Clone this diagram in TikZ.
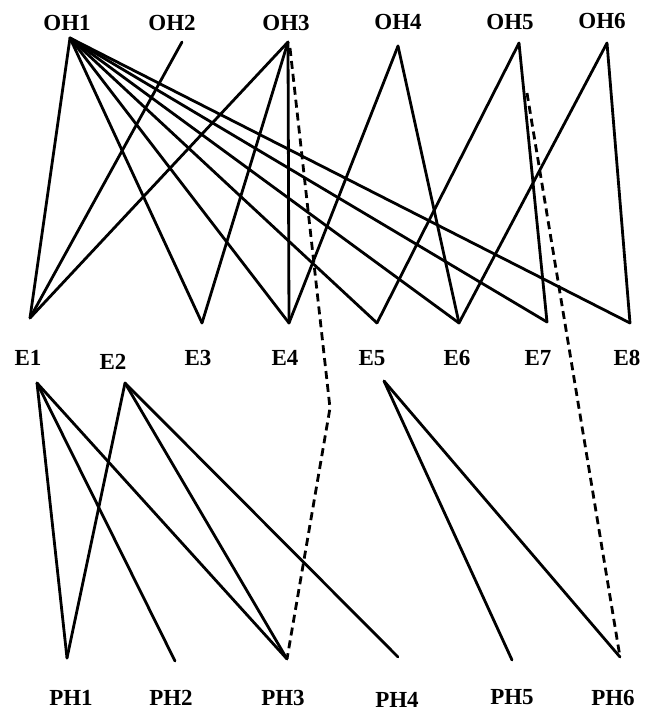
\documentclass[tikz,border=0pt]{standalone}
\usepackage{fontspec}
\setmainfont{Liberation Serif}
\tikzset{
  lbl/.style={font=\fontsize{23}{26}\selectfont\bfseries, inner sep=0pt},
  edge/.style={line width=2.8pt, line cap=round, black},
  dashedge/.style={line width=2.8pt, dash pattern=on 8pt off 5pt, black}
}
\begin{document}
\begin{tikzpicture}[x=1pt,y=-1pt]
\useasboundingbox (0,0) rectangle (652,713);
% labels
\node[lbl] (OH1) at (67,23) {OH1};
\node[lbl] (OH2) at (172,23) {OH2};
\node[lbl] (OH3) at (286,23) {OH3};
\node[lbl] (OH4) at (398,22) {OH4};
\node[lbl] (OH5) at (510,22) {OH5};
\node[lbl] (OH6) at (602,21) {OH6};
\node[lbl] (E1) at (28,358) {E1};
\node[lbl] (E2) at (113,362) {E2};
\node[lbl] (E3) at (198,358) {E3};
\node[lbl] (E4) at (285,358) {E4};
\node[lbl] (E5) at (372,358) {E5};
\node[lbl] (E6) at (457,358) {E6};
\node[lbl] (E7) at (538,358) {E7};
\node[lbl] (E8) at (627,358) {E8};
\node[lbl] (PH1) at (71,698) {PH1};
\node[lbl] (PH2) at (171,698) {PH2};
\node[lbl] (PH3) at (283,698) {PH3};
\node[lbl] (PH4) at (397,700) {PH4};
\node[lbl] (PH5) at (512,697) {PH5};
\node[lbl] (PH6) at (613,698) {PH6};
% line end points
\coordinate (a1) at (70,38);
\coordinate (a2) at (182,42);
\coordinate (a3) at (288,42);
\coordinate (a4) at (398,46);
\coordinate (a5) at (519,43);
\coordinate (a6) at (607,43);
\coordinate (e1) at (30,318);
\coordinate (e3) at (202,323);
\coordinate (e4) at (289,323);
\coordinate (e5) at (377,323);
\coordinate (e6) at (459,323);
\coordinate (e7) at (547,322);
\coordinate (e8) at (630,323);
\coordinate (l1) at (37,383);
\coordinate (l2) at (125,383);
\coordinate (l5) at (384,381);
\coordinate (p1) at (67,658);
\coordinate (p2) at (175,661);
\coordinate (p3) at (287,659);
\coordinate (p4) at (398,657);
\coordinate (p5) at (512,660);
\coordinate (p6) at (620,657);
\coordinate (d3) at (290,48);
\coordinate (bend) at (330,408);
\coordinate (d5) at (527,93);
% upper section
\foreach \t in {e1,e3,e4,e5,e6,e7,e8} \draw[edge] (a1) -- (\t);
\draw[edge] (a2) -- (e1);
\foreach \t in {e1,e3,e4} \draw[edge] (a3) -- (\t);
\foreach \t in {e4,e6} \draw[edge] (a4) -- (\t);
\foreach \t in {e5,e7} \draw[edge] (a5) -- (\t);
\foreach \t in {e6,e8} \draw[edge] (a6) -- (\t);
% lower section
\foreach \t in {p1,p2,p3} \draw[edge] (l1) -- (\t);
\foreach \t in {p1,p3,p4} \draw[edge] (l2) -- (\t);
\foreach \t in {p5,p6} \draw[edge] (l5) -- (\t);
% dashed
\draw[dashedge] (d3) -- (bend) -- (p3);
\draw[dashedge] (d5) -- (p6);
\end{tikzpicture}
\end{document}
